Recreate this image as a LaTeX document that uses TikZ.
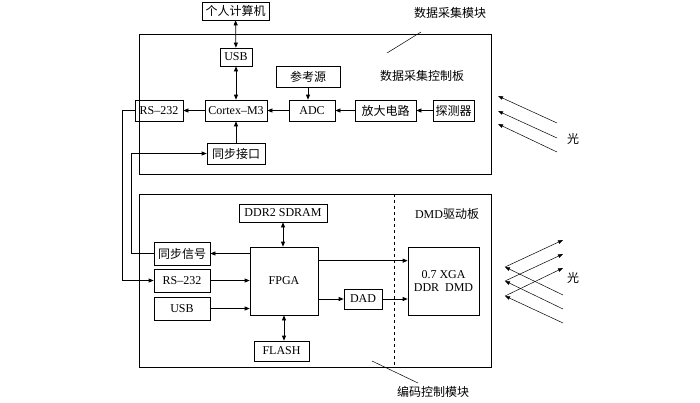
\documentclass[tikz,border=0pt]{standalone}
\usepackage{fontspec}
\setmainfont{Liberation Serif}
\newfontfamily\cjk{Noto Sans CJK SC}
\usetikzlibrary{arrows.meta,calc}
\begin{document}
\begin{tikzpicture}[x=1pt,y=-1pt,
  every node/.style={font=\fontsize{12}{13.5}\selectfont},
  blk/.style={draw,line width=0.7pt,inner sep=0pt,align=center},
  ln/.style={line width=0.7pt},
  arr/.style={ln,-{Triangle[length=5pt,width=4pt]}},
  darr/.style={ln,{Triangle[length=5pt,width=4pt]}-{Triangle[length=5pt,width=4pt]}},
  lt/.style={line width=0.5pt,-{Triangle[length=5pt,width=3.5pt]}},
  lbl/.style={inner sep=0pt}]
\useasboundingbox (0,0) rectangle (700,402);
% outer boxes
\draw[ln] (139,34) rectangle (491,174);
\draw[ln] (139,194) rectangle (491,367);
\draw[ln,dashed] (394,194) -- (394,367);
% labels
\node[lbl] (topl) at (450,13) {\cjk 数据采集模块};
\node[lbl] (ctrl) at (422,76) {\cjk 数据采集控制板};
\node[lbl] (dmdl) at (447,214) {DMD{\cjk 驱动板}};
\node[lbl] (botl) at (433,392) {\cjk 编码控制模块};
\coordinate (tl1) at (387,53); \coordinate (tl2) at (421,32);
\draw[line width=0.5pt] (tl1) -- (tl2);
\coordinate (bl1) at (372,361); \coordinate (bl2) at (418,383);
\draw[line width=0.5pt] (bl1) -- (bl2);
% top nodes
\node[blk,minimum width=67pt,minimum height=18pt] (pc) at (235.5,11) {\cjk 个人计算机};
\node[blk,minimum width=32pt,minimum height=18pt] (usb1) at (236,57) {USB};
\node[blk,minimum width=64pt,minimum height=21pt] (ref) at (308,76.5) {\cjk 参考源};
\node[blk,minimum width=48pt,minimum height=21pt] (rs1) at (159,110.5) {RS\textendash232};
\node[blk,minimum width=62pt,minimum height=21pt] (cortex) at (236,110.5) {Cortex\textendash M3};
\node[blk,minimum width=46pt,minimum height=21pt] (adc) at (312,110.5) {ADC};
\node[blk,minimum width=61pt,minimum height=21pt] (amp) at (385.5,110.5) {\cjk 放大电路};
\node[blk,minimum width=41pt,minimum height=21pt] (det) at (453.5,110.5) {\cjk 探测器};
\node[blk,minimum width=58pt,minimum height=21pt] (syncif) at (236,153.5) {\cjk 同步接口};
% bottom nodes
\node[blk,minimum width=88pt,minimum height=18pt] (ddr) at (283,213) {DDR2 SDRAM};
\node[blk,minimum width=56pt,minimum height=23pt] (syncsig) at (182,253.5) {\cjk 同步信号};
\node[blk,minimum width=56pt,minimum height=23pt] (rs2) at (182,280.5) {RS\textendash232};
\node[blk,minimum width=56pt,minimum height=23pt] (usb2) at (182,308.5) {USB};
\node[blk,minimum width=68pt,minimum height=68pt] (fpga) at (284,281) {FPGA};
\node[blk,minimum width=38pt,minimum height=20pt] (dad) at (363,299) {DAD};
\node[blk,minimum width=71pt,minimum height=68pt] (dmd) at (443.5,281) {0.7 XGA\\DDR\ \ DMD};
\node[blk,minimum width=55pt,minimum height=20pt] (flash) at (281.5,351) {FLASH};
% top connectors
\draw[darr] (pc) -- (usb1);
\draw[darr] (usb1) -- (cortex);
\draw[arr] (cortex) -- (rs1);
\draw[arr] (adc) -- (cortex);
\draw[arr] (amp) -- (adc);
\draw[arr] (det) -- (amp);
\draw[arr] (ref.south) -- (ref.south |- adc.north);
\draw[arr] (syncif) -- (cortex);
% cross connectors
\draw[arr] (rs1.west) -- (122,110.5) -- (122,280.5) -- (rs2.west);
\draw[arr] (syncsig.west) -- (131,253.5) -- (131,153.5) -- (syncif.west);
% bottom connectors
\draw[darr] (ddr.south) -- (ddr.south |- fpga.north);
\draw[darr] (fpga.south) -- (fpga.south |- flash.north);
\draw[arr] (syncsig.east -| fpga.west) -- (syncsig.east);
\draw[arr] (rs2.east) -- (rs2.east -| fpga.west);
\draw[arr] (usb2.east) -- (usb2.east -| fpga.west);
\draw[arr] ([yshift=-14pt]fpga.north east) -- ([yshift=-14pt]dmd.north west);
\draw[arr] (fpga.east |- dad.west) -- (dad.west);
\draw[arr] (dad.east) -- (dad.east -| dmd.west);
% light, top
\coordinate (a1s) at (557,123); \coordinate (a1e) at (498,96);
\coordinate (a2s) at (557,138); \coordinate (a2e) at (498,111);
\coordinate (a3s) at (557,152); \coordinate (a3e) at (498,124);
\draw[lt] (a1s) -- (a1e);
\draw[lt] (a2s) -- (a2e);
\draw[lt] (a3s) -- (a3e);
\node[lbl] (g1) at (573,139) {\cjk 光};
% light, bottom
\coordinate (b1s) at (563,295); \coordinate (b1m) at (505,267); \coordinate (b1e) at (563,240);
\coordinate (b2s) at (563,309); \coordinate (b2m) at (505,281); \coordinate (b2e) at (563,254);
\coordinate (b3s) at (563,323); \coordinate (b3m) at (505,296); \coordinate (b3e) at (563,268);
\draw[lt] (b1s) -- (b1m);
\draw[lt] (b2s) -- (b2m);
\draw[lt] (b3s) -- (b3m);
\draw[lt] (b1m) -- (b1e);
\draw[lt] (b2m) -- (b2e);
\draw[lt] (b3m) -- (b3e);
\node[lbl] (g2) at (573,278) {\cjk 光};
\end{tikzpicture}
\end{document}
